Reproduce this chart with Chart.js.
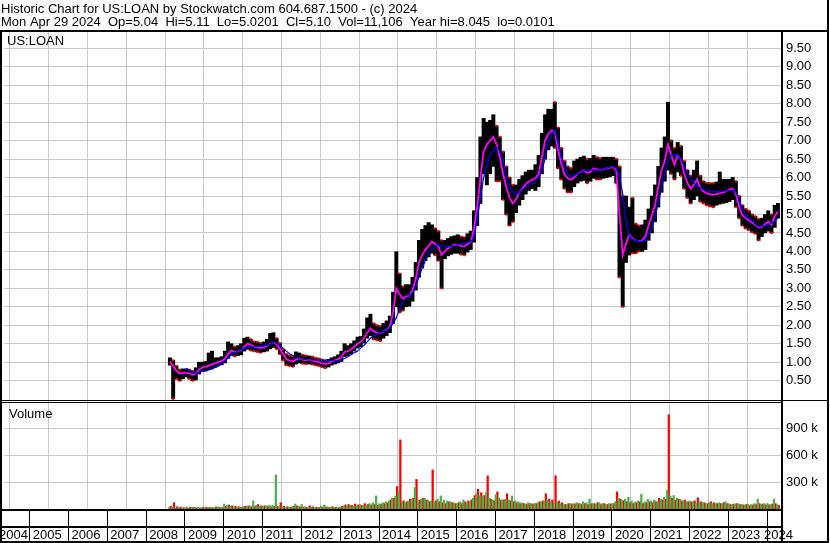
<!DOCTYPE html>
<html>
<head>
<meta charset="utf-8">
<title>Historic Chart for US:LOAN</title>
<script src="https://cdn.jsdelivr.net/npm/chart.js@4.4.1/dist/chart.umd.min.js"></script>
<style>
  html, body { margin: 0; padding: 0; background: #fff; }
  canvas { display: block; }
</style>
</head>
<body>
<canvas id="stockChart" width="830" height="543"></canvas>
<script>
/* ------------------------------------------------
   US:LOAN historic chart - monthly values
   ------------------------------------------------ */

// first month of data is Aug 2008, one value per month up to Apr 2024
const firstYear = 2008;
const firstMonth = 8;

const yearLabels = [2004, 2005, 2006, 2007, 2008, 2009, 2010, 2011, 2012, 2013, 2014,
                    2015, 2016, 2017, 2018, 2019, 2020, 2021, 2022, 2023, 2024];
const priceTicks = [0.5, 1, 1.5, 2, 2.5, 3, 3.5, 4, 4.5, 5, 5.5, 6, 6.5, 7, 7.5, 8, 8.5, 9, 9.5];
const volumeTicks = [300, 600, 900];   // thousands

// monthly high / low of the price bars
const high = [
  1.12, 1.05, 0.90, 0.80, 0.82,
  0.82, 0.80, 0.76, 0.85, 1.00, 1.00, 1.02, 1.25, 1.30, 1.12, 1.12, 1.15,
  1.30, 1.55, 1.50, 1.42, 1.45, 1.50, 1.65, 1.68, 1.62, 1.56, 1.55, 1.52,
  1.55, 1.62, 1.78, 1.80, 1.65, 1.52, 1.35, 1.22, 1.18, 1.16, 1.28, 1.25,
  1.20, 1.18, 1.17, 1.15, 1.12, 1.10, 1.07, 1.05, 1.08, 1.12, 1.15, 1.20,
  1.30, 1.50, 1.45, 1.50, 1.58, 1.68, 1.70, 1.90, 2.20, 2.30, 2.05, 2.00,
  1.98, 2.05, 2.12, 2.25, 2.90, 3.99, 3.40, 3.05, 3.10, 3.10, 3.30, 3.70,
  4.30, 4.60, 4.70, 4.78, 4.72, 4.62, 4.55, 4.30, 4.30, 4.35, 4.40, 4.42,
  4.45, 4.40, 4.38, 4.48, 4.55, 5.10, 6.00, 7.10, 7.60, 7.50, 7.55, 7.70,
  7.40, 7.10, 6.70, 6.30, 6.00, 5.80, 5.80, 5.95, 6.05, 6.15, 6.20, 6.20,
  6.35, 6.60, 7.20, 7.70, 7.85, 7.85, 8.04, 7.35, 6.80, 6.45, 6.30, 6.25,
  6.45, 6.50, 6.55, 6.58, 6.50, 6.52, 6.60, 6.55, 6.52, 6.55, 6.55, 6.55,
  6.55, 6.50, 6.30, 5.50, 5.50, 5.20, 5.45, 4.75, 4.70, 4.72, 4.85, 5.15,
  5.50, 5.80, 6.30, 6.80, 7.10, 8.04, 7.00, 6.80, 6.95, 6.85, 6.45, 6.20,
  6.05, 6.20, 6.45, 6.05, 5.90, 5.85, 5.85, 5.85, 5.88, 6.15, 5.95, 5.95,
  5.95, 6.00, 5.90, 5.50, 5.25, 5.15, 5.10, 5.00, 4.95, 4.88, 4.90, 5.00,
  5.10, 5.00, 5.25, 5.30
];
const low = [
  0.92, 0.01, 0.55, 0.50, 0.55,
  0.60, 0.55, 0.50, 0.52, 0.68, 0.75, 0.76, 0.80, 0.82, 0.86, 0.90, 0.93,
  0.98, 1.10, 1.18, 1.16, 1.18, 1.20, 1.30, 1.35, 1.32, 1.30, 1.28, 1.26,
  1.28, 1.30, 1.36, 1.40, 1.36, 1.22, 1.05, 0.92, 0.90, 0.88, 0.95, 0.98,
  0.96, 0.95, 0.95, 0.94, 0.92, 0.90, 0.87, 0.84, 0.87, 0.92, 0.95, 0.98,
  1.02, 1.15, 1.18, 1.22, 1.30, 1.38, 1.42, 1.52, 1.65, 1.72, 1.62, 1.60,
  1.58, 1.65, 1.72, 1.80, 2.05, 2.50, 2.35, 2.40, 2.50, 2.52, 2.65, 2.95,
  3.30, 3.55, 3.75, 3.85, 3.95, 3.90, 3.75, 3.00, 3.80, 3.88, 3.92, 3.95,
  3.95, 3.92, 3.90, 3.98, 4.05, 4.25, 4.70, 5.30, 6.10, 5.80, 6.10, 6.30,
  5.90, 5.90, 5.40, 5.00, 4.70, 4.80, 5.05, 5.25, 5.40, 5.55, 5.65, 5.70,
  5.65, 5.75, 6.10, 6.50, 6.75, 6.85, 6.80, 6.25, 5.95, 5.70, 5.60, 5.60,
  5.75, 5.85, 5.90, 5.92, 5.85, 5.90, 5.98, 5.95, 5.95, 5.98, 6.00, 6.02,
  6.05, 5.85, 3.30, 2.50, 3.70, 3.90, 3.95, 3.95, 4.00, 4.00, 4.05, 4.30,
  4.50, 4.80, 5.20, 5.60, 5.90, 6.20, 6.10, 5.95, 6.15, 6.05, 5.70, 5.45,
  5.30, 5.40, 5.50, 5.35, 5.30, 5.25, 5.22, 5.20, 5.25, 5.28, 5.30, 5.32,
  5.35, 5.40, 5.20, 4.90, 4.70, 4.62, 4.58, 4.52, 4.48, 4.30, 4.40, 4.50,
  4.55, 4.50, 4.65, 4.90
];

// short moving average (magenta)
const maShort = [
  1.02, 0.90, 0.76, 0.70, 0.71,
  0.71, 0.70, 0.66, 0.69, 0.80, 0.86, 0.88, 0.91, 0.94, 0.97, 1.01, 1.03,
  1.10, 1.22, 1.32, 1.27, 1.29, 1.33, 1.42, 1.50, 1.48, 1.42, 1.40, 1.38,
  1.40, 1.44, 1.50, 1.53, 1.49, 1.36, 1.22, 1.08, 1.05, 1.02, 1.07, 1.10,
  1.07, 1.06, 1.06, 1.04, 1.02, 1.00, 0.97, 0.95, 0.97, 1.02, 1.05, 1.08,
  1.14, 1.28, 1.29, 1.35, 1.42, 1.50, 1.55, 1.65, 1.80, 1.92, 1.84, 1.80,
  1.78, 1.83, 1.88, 1.96, 2.35, 3.00, 2.85, 2.72, 2.78, 2.78, 2.95, 3.25,
  3.70, 3.90, 4.05, 4.15, 4.27, 4.20, 4.13, 3.90, 4.00, 4.08, 4.13, 4.18,
  4.18, 4.15, 4.13, 4.20, 4.25, 4.60, 5.20, 6.00, 6.70, 6.90, 7.00, 7.10,
  6.90, 6.55, 6.10, 5.75, 5.45, 5.30, 5.40, 5.60, 5.70, 5.82, 5.90, 5.94,
  5.98, 6.10, 6.55, 7.00, 7.18, 7.28, 7.25, 6.75, 6.38, 6.08, 5.98, 5.94,
  6.00, 6.10, 6.15, 6.20, 6.12, 6.15, 6.25, 6.22, 6.20, 6.22, 6.25, 6.27,
  6.28, 6.20, 5.00, 3.90, 4.20, 4.45, 4.35, 4.30, 4.28, 4.30, 4.40, 4.70,
  4.98, 5.25, 5.75, 6.20, 6.45, 6.90, 6.60, 6.35, 6.60, 6.50, 6.10, 5.85,
  5.70, 5.80, 5.95, 5.72, 5.62, 5.57, 5.55, 5.53, 5.55, 5.57, 5.60, 5.63,
  5.68, 5.70, 5.55, 5.20, 4.98, 4.90, 4.84, 4.78, 4.72, 4.65, 4.66, 4.74,
  4.81, 4.72, 4.95, 5.08
];

// long moving average (blue), starts Jan 2009
const maLong = [
  null, null, null, null, null,
  0.84, 0.78, 0.74, 0.70, 0.72, 0.75, 0.77, 0.79, 0.82, 0.86, 0.90, 0.97,
  1.02, 1.12, 1.20, 1.26, 1.29, 1.34, 1.38, 1.40, 1.41, 1.42, 1.42, 1.43,
  1.44, 1.46, 1.49, 1.53, 1.52, 1.47, 1.38, 1.30, 1.23, 1.18, 1.14, 1.10,
  1.08, 1.07, 1.06, 1.06, 1.06, 1.06, 1.06, 1.05, 1.05, 1.04, 1.04, 1.04,
  1.06, 1.10, 1.15, 1.20, 1.26, 1.30, 1.38, 1.46, 1.55, 1.65, 1.72, 1.76,
  1.80, 1.83, 1.86, 1.94, 2.05, 2.20, 2.45, 2.65, 2.74, 2.78, 2.88, 3.05,
  3.30, 3.55, 3.75, 3.95, 4.07, 4.15, 4.18, 4.15, 4.13, 4.13, 4.13, 4.15,
  4.18, 4.20, 4.22, 4.24, 4.27, 4.35, 4.85, 5.45, 6.00, 6.35, 6.60, 6.75,
  6.82, 6.70, 6.48, 6.05, 5.78, 5.60, 5.53, 5.60, 5.68, 5.74, 5.80, 5.84,
  5.87, 6.00, 6.20, 6.50, 6.95, 7.20, 7.28, 6.95, 6.60, 6.30, 6.10, 6.03,
  6.05, 6.10, 6.15, 6.18, 6.20, 6.20, 6.20, 6.20, 6.20, 6.22, 6.25, 6.28,
  6.30, 6.25, 6.05, 5.55, 4.85, 4.42, 4.33, 4.30, 4.28, 4.27, 4.30, 4.45,
  4.62, 4.92, 5.30, 5.70, 6.10, 6.45, 6.60, 6.62, 6.60, 6.50, 6.30, 6.10,
  6.00, 5.85, 5.78, 5.72, 5.68, 5.66, 5.64, 5.63, 5.62, 5.62, 5.63, 5.64,
  5.65, 5.66, 5.60, 5.40, 5.15, 5.00, 4.90, 4.83, 4.74, 4.67, 4.67, 4.70,
  4.72, 4.76, 4.82, 4.90
];

// volume, thousands of shares (largest up-day and down-day bar each month)
const volUp = [
  15, 20, 12, 18, 10,
  12, 10, 15, 18, 20, 15, 12, 18, 20, 15, 25, 20,
  55, 40, 30, 25, 20, 18, 25, 30, 35, 90, 40, 30,
  30, 35, 40, 40, 380, 25, 20, 15, 20, 25, 55, 30,
  50, 25, 20, 18, 15, 20, 30, 45, 25, 20, 15, 20,
  25, 35, 30, 40, 30, 35, 50, 40, 45, 60, 70, 145,
  60, 70, 80, 90, 120, 145, 200, 80, 70, 90, 110, 240,
  90, 110, 120, 100, 90, 80, 110, 145, 100, 90, 80, 70,
  60, 80, 100, 70, 80, 120, 170, 150, 140, 185, 120, 100,
  160, 120, 100, 110, 100, 145, 90, 80, 70, 60, 70, 60,
  60, 70, 80, 90, 100, 80, 70, 80, 60, 50, 50, 60,
  60, 70, 60, 80, 70, 110, 60, 50, 70, 60, 50, 60,
  60, 80, 120, 100, 110, 130, 90, 80, 90, 165, 80, 110,
  90, 100, 80, 110, 130, 210, 145, 150, 120, 110, 90, 80,
  90, 80, 70, 80, 70, 60, 70, 60, 60, 70, 60, 80,
  60, 50, 55, 60, 50, 45, 55, 50, 60, 110, 50, 60,
  60, 50, 110, 50
];
const volDown = [
  30, 70, 25, 20, 15,
  15, 20, 18, 12, 10, 18, 20, 15, 12, 22, 18, 15,
  30, 45, 35, 30, 25, 20, 30, 35, 25, 30, 50, 35,
  35, 30, 25, 30, 30, 70, 30, 25, 20, 30, 35, 25,
  20, 20, 35, 25, 20, 15, 18, 20, 15, 25, 18, 15,
  30, 45, 50, 40, 55, 45, 40, 60, 50, 45, 50, 40,
  50, 60, 70, 100, 120, 250, 770, 90, 80, 110, 120, 330,
  100, 120, 100, 80, 435, 90, 80, 70, 60, 80, 70, 60,
  70, 60, 80, 90, 100, 150, 220, 180, 150, 370, 110, 90,
  190, 100, 100, 170, 90, 80, 70, 60, 60, 50, 60, 55,
  60, 80, 90, 170, 110, 100, 370, 90, 70, 50, 60, 55,
  55, 60, 50, 60, 50, 55, 60, 70, 50, 60, 50, 55,
  60, 190, 110, 90, 80, 70, 60, 70, 80, 60, 70, 80,
  70, 80, 120, 100, 110, 1050, 120, 100, 110, 90, 100, 80,
  80, 90, 125, 80, 70, 60, 80, 70, 60, 60, 70, 60,
  50, 55, 60, 50, 45, 50, 40, 45, 50, 60, 55, 45,
  45, 55, 60, 40
];

/* -----------------------------------------------
   Build datasets
   ----------------------------------------------- */

// x position of each month (middle of the month, in decimal years)
const monthPos = high.map((v, i) => firstYear + (firstMonth - 1 + i + 0.5) / 12);

const priceBars = monthPos.map((x, i) => ({ x: x, y: [low[i], high[i]] }));
const shortLine = monthPos.map((x, i) => ({ x: x, y: maShort[i] }));
const longLine = monthPos.map((x, i) => ({ x: x, y: maLong[i] }));
const upBars = monthPos.map((x, i) => ({ x: x, y: volUp[i] }));
const downBars = monthPos.map((x, i) => ({ x: x, y: volDown[i] }));

// red ticks on the ends of the bars for months that closed lower
const downTicks = [];
monthPos.forEach((x, i) => {
    if (i > 0 && maShort[i] < maShort[i - 1]) {
        downTicks.push({ x: x, y: low[i] });
        downTicks.push({ x: x, y: high[i] });
    }
});

/* -----------------------------------------------
   Frame, header and year band (drawn on the canvas)
   ----------------------------------------------- */

const frame = {
    id: "frame",

    beforeDraw(chart) {
        const c = chart.ctx;
        c.save();
        c.fillStyle = "#fff";
        c.fillRect(0, 0, chart.width, chart.height);
        c.restore();
    },

    afterDraw(chart) {
        const c = chart.ctx;
        const area = chart.chartArea;
        const xs = chart.scales.x;
        const volTop = chart.scales.vol.top;

        c.save();
        c.fillStyle = "#000";

        // outer box and axis column
        c.fillRect(0, 30, 829, 2);
        c.fillRect(827, 0, 2, 543);
        c.fillRect(0, 541, 829, 2);
        c.fillRect(0, 30, 2, 513);
        c.fillRect(area.right - 1, 30, 2, 513);

        // double line between price and volume
        c.fillRect(0, volTop - 1, 829, 1);
        c.fillRect(0, volTop + 1, area.right, 1);

        // year band
        c.fillRect(0, area.bottom, area.right, 2);
        c.fillRect(0, area.bottom + 17, area.right, 2);

        c.font = "13px 'Liberation Sans', Arial, sans-serif";
        c.textBaseline = "alphabetic";
        c.textAlign = "left";

        yearLabels.forEach(yr => {
            const px = Math.round(xs.getPixelForValue(yr));
            if (px > 2 && px < area.right) {
                c.fillRect(px, area.bottom + 2, 1, 541 - area.bottom - 2);
            }
            let tx = xs.getPixelForValue(yr) + 3.5;
            tx = Math.min(Math.max(tx, -1), area.right - 18);
            c.fillText(String(yr), tx, 539);
        });

        // header
        c.fillText("Historic Chart for US:LOAN by Stockwatch.com 604.687.1500 - (c) 2024", 1, 13);
        c.fillText("Mon Apr 29 2024  Op=5.04  Hi=5.11  Lo=5.0201  Cl=5.10  Vol=11,106  Year hi=8.045  lo=0.0101", 1, 26);

        // panel names
        c.fillText("US:LOAN", 7, 45);
        c.fillText("Volume", 9, 418);

        c.restore();
    }
};

/* -----------------------------------------------
   Chart
   ----------------------------------------------- */

Chart.defaults.font.family = "'Liberation Sans', Arial, sans-serif";
Chart.defaults.font.size = 13;
Chart.defaults.color = "#000";

document.addEventListener("DOMContentLoaded", function () {

    const ctx = document.getElementById("stockChart");

    new Chart(ctx, {
        type: "bar",

        data: {
            datasets: [
                {
                    type: "line",
                    label: "Long average",
                    data: longLine,
                    yAxisID: "y",
                    borderColor: "#0000ff",
                    borderWidth: 1.2,
                    pointRadius: 0,
                    tension: 0,
                    order: 0
                },
                {
                    type: "line",
                    label: "Short average",
                    data: shortLine,
                    yAxisID: "y",
                    borderColor: "#ff00ff",
                    borderWidth: 1.8,
                    pointRadius: 0,
                    tension: 0,
                    order: 1
                },
                {
                    type: "line",
                    label: "Down",
                    data: downTicks,
                    yAxisID: "y",
                    showLine: false,
                    pointStyle: "rect",
                    pointRadius: 1.5,
                    pointBorderWidth: 0,
                    pointBackgroundColor: "#ff0000",
                    order: 2
                },
                {
                    label: "Price",
                    data: priceBars,
                    yAxisID: "y",
                    backgroundColor: "#000",
                    grouped: false,
                    barThickness: 3.3,
                    barPercentage: 1,
                    categoryPercentage: 1,
                    order: 3
                },
                {
                    label: "Volume up",
                    data: upBars,
                    yAxisID: "vol",
                    backgroundColor: "#4cb04c",
                    barThickness: 1.6,
                    order: 4
                },
                {
                    label: "Volume down",
                    data: downBars,
                    yAxisID: "vol",
                    backgroundColor: "#ff0000",
                    barThickness: 1.6,
                    order: 5
                }
            ]
        },

        options: {
            responsive: false,
            devicePixelRatio: 1,
            animation: false,
            events: [],

            layout: {
                padding: { top: 32, left: 2, right: 0, bottom: 34 }
            },

            scales: {
                x: {
                    type: "linear",
                    min: 2004.35,
                    max: 2024.396,
                    offset: false,
                    afterBuildTicks: s => { s.ticks = yearLabels.slice(1).map(v => ({ value: v })); },
                    afterFit: s => { s.height = 0; },
                    ticks: { display: false },
                    grid: { color: "#c8c8c8", drawTicks: false },
                    border: { display: false }
                },
                y: {
                    position: "right",
                    stack: "panels",
                    stackWeight: 369,
                    min: -0.05,
                    max: 9.94,
                    afterBuildTicks: s => { s.ticks = priceTicks.map(v => ({ value: v })); },
                    afterFit: s => { s.width = 48; },
                    ticks: {
                        autoSkip: false,
                        callback: v => v.toFixed(2),
                        color: "#000",
                        padding: 4
                    },
                    grid: { color: "#c8c8c8", drawTicks: false },
                    border: { display: false }
                },
                vol: {
                    position: "right",
                    stack: "panels",
                    stackWeight: 108,
                    min: 0,
                    max: 1204,
                    afterBuildTicks: s => { s.ticks = volumeTicks.map(v => ({ value: v })); },
                    afterFit: s => { s.width = 48; },
                    ticks: {
                        autoSkip: false,
                        callback: v => v + " k",
                        color: "#000",
                        padding: 4
                    },
                    grid: { color: "#c8c8c8", drawTicks: false },
                    border: { display: false }
                }
            },

            plugins: {
                legend: { display: false },
                tooltip: { enabled: false }
            }
        },

        plugins: [frame]
    });

});
</script>
</body>
</html>
